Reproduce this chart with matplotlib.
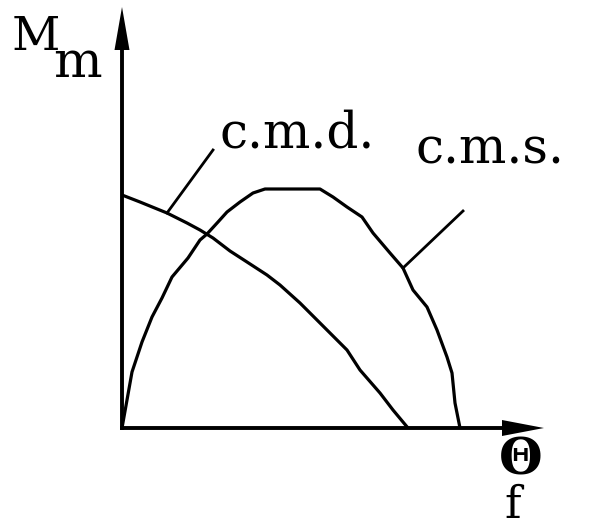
import numpy as np
import matplotlib.pyplot as plt

# characteristic curves, theta (abscissa) vs moment M_m, arbitrary units
cmd_theta = [0, 18, 45, 65, 78, 91, 108, 125, 145, 158, 178, 198, 225, 238, 258, 271, 286]
cmd_m = [233, 226, 215, 205, 198, 190, 177, 166, 153, 143, 125, 105, 78, 58, 35, 18, 0]

cms_theta = [0, 10, 20, 30, 40, 50, 66, 78, 85, 96, 105, 118, 131, 143, 170, 198,
             211, 225, 240, 251, 268, 281, 291, 305, 315, 325, 330, 333, 338]
cms_m = [0, 56, 86, 111, 130, 151, 170, 188, 194, 206, 216, 226, 235, 239, 239, 239,
         231, 221, 211, 195, 175, 160, 138, 121, 98, 71, 55, 25, 0]

fig = plt.figure(figsize=(5.96, 5.28), dpi=100)
ax = fig.add_axes([0, 0, 1, 1])
ax.set_xlim(-122, 474)
ax.set_ylim(-100, 428)
ax.set_aspect('equal')
ax.axis('off')

lw = 2.3
ax.plot(cmd_theta, cmd_m, color='black', lw=lw, solid_capstyle='butt')
ax.plot(cms_theta, cms_m, color='black', lw=lw, solid_capstyle='butt')

# axes with arrow heads
ax.plot([0, 0], [0, 380], color='black', lw=2.8)
ax.plot([0, 382], [0, 0], color='black', lw=2.8)
ax.fill([0, -7.5, 7.5], [421, 378, 378], color='black', lw=0)
ax.fill([422, 380, 380], [0, 8, -8], color='black', lw=0)

# leader lines to the curve names
ax.plot([45, 91], [215, 278], color='black', lw=2.0)
ax.plot([281, 341], [160, 217], color='black', lw=2.0)

serif = dict(family='DejaVu Serif', color='black')
ax.text(98, 280, 'c.m.d.', fontsize=36, ha='left', va='baseline', **serif)
ax.text(293, 265, 'c.m.s.', fontsize=36, ha='left', va='baseline', **serif)
ax.text(-110, 378, 'M', fontsize=34, ha='left', va='baseline', **serif)
ax.text(-69, 351, 'm', fontsize=37, ha='left', va='baseline', **serif)
ax.text(399, -33, 'Θ', fontsize=36, fontweight='bold', ha='center', va='center', **serif)
ax.text(391, -90, 'f', fontsize=32, ha='center', va='baseline', **serif)

fig.savefig('out.png', dpi=100)
